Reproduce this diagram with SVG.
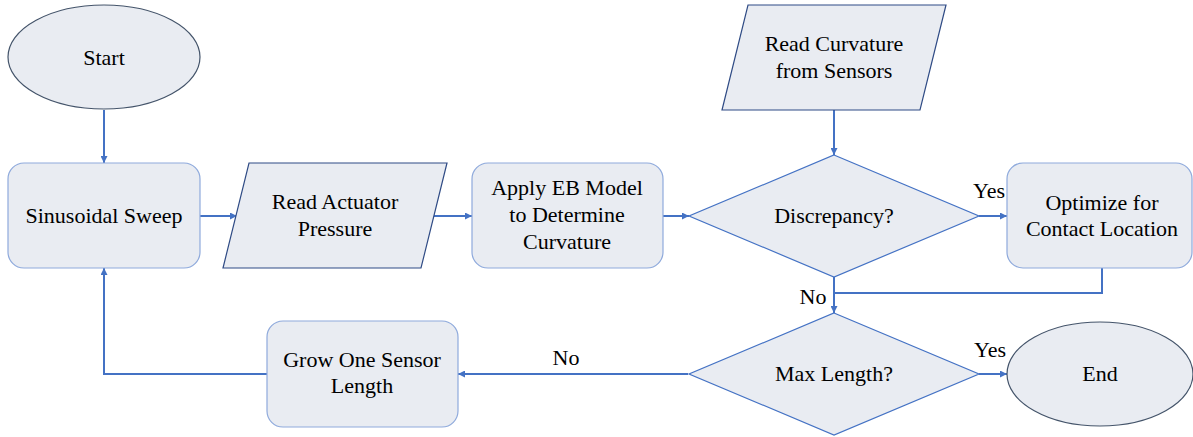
<svg xmlns="http://www.w3.org/2000/svg" width="1193" height="437" viewBox="0 0 1193 437">
<style>
.fill{fill:#E9ECF2}
.ell{stroke:#44546A;stroke-width:1.2}
.rr{stroke:#8FAADC;stroke-width:1.2}
.par{stroke:#2F4B85;stroke-width:1.2}
.dia{stroke:#4472C4;stroke-width:1.2}
.t{font-size:22px;fill:#000;text-anchor:middle}
.c{fill:none;stroke:#4472C4;stroke-width:2}
</style>
<defs>
<marker id="ah" viewBox="0 0 10 10" refX="10" refY="5" markerWidth="9" markerHeight="7" markerUnits="userSpaceOnUse" orient="auto">
<path d="M0,0 L10,5 L0,10 z" fill="#4472C4"/>
</marker>
</defs>
<rect width="1193" height="437" fill="#fff"/>
<g font-family="Liberation Serif, DejaVu Serif, serif">
<g id="connectors">
<path class="c" d="M104,110 V163" marker-end="url(#ah)"/>
<path class="c" d="M200,216 H237" marker-end="url(#ah)"/>
<path class="c" d="M434,216 H472" marker-end="url(#ah)"/>
<path class="c" d="M663,216 H689" marker-end="url(#ah)"/>
<path class="c" d="M834,110 V155" marker-end="url(#ah)"/>
<path class="c" d="M979,216 H1007" marker-end="url(#ah)"/>
<path class="c" d="M1102,268 V293 H834"/>
<path class="c" d="M834,277 V313" marker-end="url(#ah)"/>
<path class="c" d="M979,374 H1007" marker-end="url(#ah)"/>
<path class="c" d="M688,374 H458" marker-end="url(#ah)"/>
<path class="c" d="M267,374 H104 V268" marker-end="url(#ah)"/>
<text class="t" x="989" y="198">Yes</text>
<text class="t" x="813" y="304">No</text>
<text class="t" x="990" y="357">Yes</text>
<text class="t" x="566" y="365">No</text>
</g>
<g id="start">
<ellipse class="fill ell" cx="104" cy="57" rx="96" ry="52"/>
<text class="t" x="104" y="65">Start</text>
</g>
<g id="sweep">
<rect class="fill rr" x="8" y="163" width="192" height="105" rx="16"/>
<text class="t" x="104" y="223">Sinusoidal Sweep</text>
</g>
<g id="readActuator">
<polygon class="fill par" points="249,163 447,163 421,268 223,268"/>
<text class="t" x="335" y="209">Read Actuator</text>
<text class="t" x="335" y="236">Pressure</text>
</g>
<g id="applyEB">
<rect class="fill rr" x="472" y="163" width="191" height="105" rx="16"/>
<text class="t" x="567" y="195">Apply EB Model</text>
<text class="t" x="567" y="222">to Determine</text>
<text class="t" x="567" y="249">Curvature</text>
</g>
<g id="readCurvature">
<polygon class="fill par" points="748,5 946,5 920,110 722,110"/>
<text class="t" x="834" y="51">Read Curvature</text>
<text class="t" x="834" y="78">from Sensors</text>
</g>
<g id="discrepancy">
<polygon class="fill dia" points="834,155 979,216 834,277 689,216"/>
<text class="t" x="834" y="223">Discrepancy?</text>
</g>
<g id="optimize">
<rect class="fill rr" x="1007" y="163" width="185" height="105" rx="16"/>
<text class="t" x="1102" y="210">Optimize for</text>
<text class="t" x="1102" y="236">Contact Location</text>
</g>
<g id="maxLength">
<polygon class="fill dia" points="834,313 979,374 834,435 689,374"/>
<text class="t" x="834" y="381">Max Length?</text>
</g>
<g id="end">
<ellipse class="fill ell" cx="1100" cy="374" rx="93" ry="52"/>
<text class="t" x="1100" y="381">End</text>
</g>
<g id="grow">
<rect class="fill rr" x="267" y="321" width="191" height="106" rx="16"/>
<text class="t" x="362" y="367">Grow One Sensor</text>
<text class="t" x="362" y="393">Length</text>
</g>
</g>
</svg>
